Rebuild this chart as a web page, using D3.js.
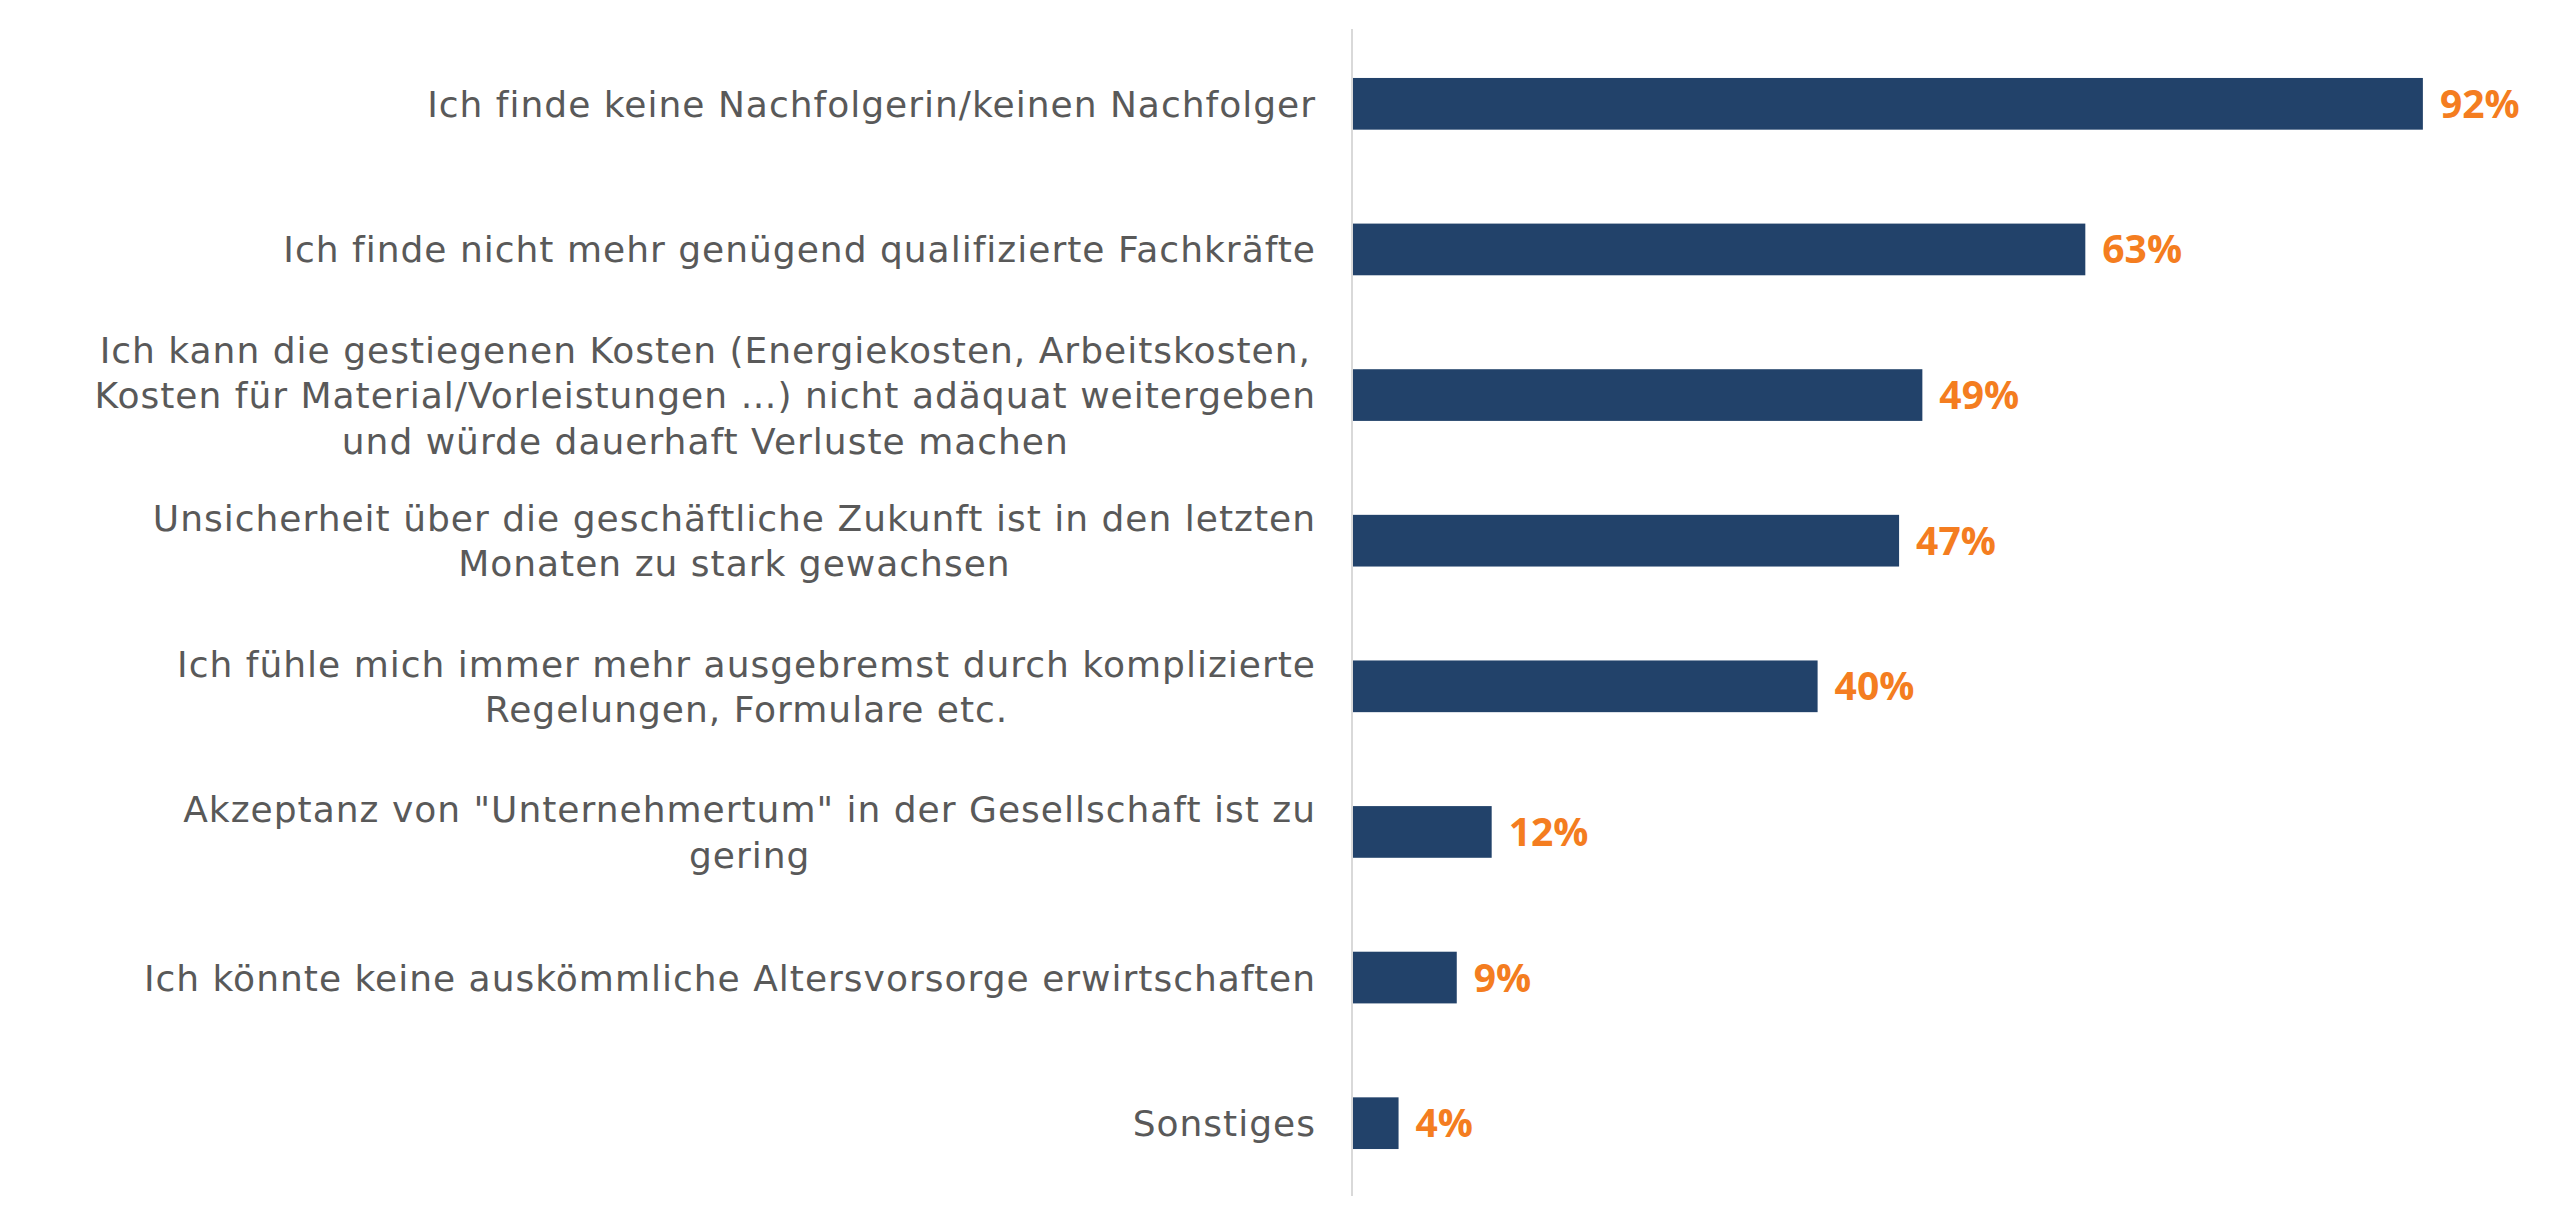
<!DOCTYPE html>
<html>
<head>
    <title>Gründe</title>
    <script src="https://cdn.jsdelivr.net/npm/d3@7/dist/d3.min.js"></script>
    <style>
        body { margin: 0; background: #fff; }
    </style>
</head>
<body>
<script>
    var width = 2560;
    var height = 1227;

    // categories, one array of lines per bar
    var categories = [
        ["Ich finde keine Nachfolgerin/keinen Nachfolger"],
        ["Ich finde nicht mehr genügend qualifizierte Fachkräfte"],
        ["Ich kann die gestiegenen Kosten (Energiekosten, Arbeitskosten,",
         "Kosten für Material/Vorleistungen …) nicht adäquat weitergeben",
         "und würde dauerhaft Verluste machen"],
        ["Unsicherheit über die geschäftliche Zukunft ist in den letzten",
         "Monaten zu stark gewachsen"],
        ["Ich fühle mich immer mehr ausgebremst durch komplizierte",
         "Regelungen, Formulare etc."],
        ["Akzeptanz von \"Unternehmertum\" in der Gesellschaft ist zu",
         "gering"],
        ["Ich könnte keine auskömmliche Altersvorsorge erwirtschaften"],
        ["Sonstiges"]
    ];
    var values = [92, 63, 49, 47, 40, 12, 9, 4];

    var svg = d3.select("body")
        .append("svg")
        .attr("width", width)
        .attr("height", height);

    var x = d3.scaleLinear()
        .domain([0, 100])
        .range([1352, 2516]);

    var y = d3.scaleBand()
        .domain(d3.range(values.length))
        .range([31, 1196])
        .paddingInner(0.645)
        .paddingOuter(0.3225);

    // axis line
    svg.append("line")
        .attr("x1", x(0)).attr("x2", x(0))
        .attr("y1", 29).attr("y2", 1196)
        .attr("stroke", "#d9d9d9")
        .attr("stroke-width", 2);

    svg.selectAll("rect.bar")
        .data(values)
        .enter()
        .append("rect")
        .attr("class", "bar")
        .attr("x", x(0) + 1)
        .attr("y", function(d, i) { return y(i); })
        .attr("width", function(d) { return x(d) - x(0) - 1; })
        .attr("height", y.bandwidth())
        .attr("fill", "#22426a");

    svg.selectAll("text.val")
        .data(values)
        .enter()
        .append("text")
        .attr("class", "val")
        .attr("x", function(d) { return x(d) + 17; })
        .attr("y", function(d, i) { return y(i) + y.bandwidth() / 2; })
        .attr("dy", "0.36em")
        .attr("font-family", "'Open Sans', sans-serif")
        .attr("font-weight", 700)
        .attr("font-size", 39)
        .attr("fill", "#f47d20")
        .text(function(d) { return d + "%"; });

    // category labels: block right aligned, lines centred inside block
    var labelRight = 1316;
    var lineH = 45.5;
    var groups = svg.selectAll("g.cat")
        .data(categories)
        .enter()
        .append("g")
        .attr("class", "cat")
        .attr("font-family", "'DejaVu Sans', sans-serif")
        .attr("font-size", 36)
        .attr("letter-spacing", 1)
        .attr("fill", "#595959");

    groups.each(function(lines, i) {
        var g = d3.select(this);
        var cy = y(i) + y.bandwidth() / 2;
        var texts = g.selectAll("text")
            .data(lines)
            .enter()
            .append("text")
            .attr("y", function(d, j) { return cy + (j - (lines.length - 1) / 2) * lineH; })
            .attr("dy", "0.36em")
            .text(function(d) { return d; });
        var maxW = 0;
        texts.each(function() { maxW = Math.max(maxW, this.getComputedTextLength()); });
        texts.attr("text-anchor", "middle")
            .attr("x", labelRight - maxW / 2);
    });
</script>
</body>
</html>
